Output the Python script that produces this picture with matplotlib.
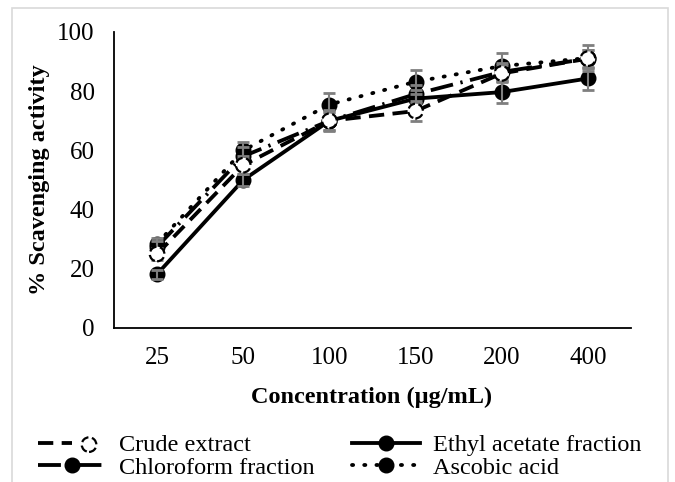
import matplotlib
matplotlib.use('Agg')
import matplotlib.pyplot as plt
from matplotlib.patches import Rectangle
from matplotlib.legend_handler import HandlerTuple
import numpy as np

plt.rcParams['font.family'] = ['Liberation Serif', 'DejaVu Serif']
plt.rcParams['font.size'] = 17.5

# data
conc = ['25', '50', '100', '150', '200', '400']
crude = [25, 55, 70, 73.3, 86, 91]
ethyl = [18.2, 50, 70, 77.5, 79.7, 84.3]
chloro = [27.5, 58, 70, 79, 86.5, 91]
ascorbic = [28.5, 60, 75.5, 83.2, 88.5, 91.2]
crude_err = [2, 3, 3, 3.3, 3, 3]
ethyl_err = [1.5, 2, 3.5, 3, 3.8, 4]
chloro_err = [2, 3, 3, 3, 3, 3]
ascorbic_err = [2, 3, 4, 4, 4.5, 4.5]

W, H = 675, 482
fig = plt.figure(figsize=(W / 100, H / 100), dpi=100)
ax = fig.add_axes([114 / W, 1 - 328 / H, 517 / W, 296 / H])

x = np.arange(len(conc))
lw = 2.75
ms = 10.5
err_kw = dict(fmt='none', ecolor='#7f7f7f', elinewidth=1.5, capsize=4.5, capthick=2, zorder=4)

# crude extract: dashed line, open marker with dashed edge
l_crude, = ax.plot(x, crude, color='k', lw=lw, ls=(0, (4, 2.2)), zorder=3)
ax.errorbar(x, crude, yerr=crude_err, **err_kw)
s_crude = ax.scatter(x, crude, s=ms ** 2, facecolors='white', edgecolors='k',
                     linewidths=1.6, linestyles='--', zorder=5)

l_ethyl, = ax.plot(x, ethyl, color='k', lw=lw, ls='-', marker='o', ms=ms, zorder=3)
ax.errorbar(x, ethyl, yerr=ethyl_err, **err_kw)

l_chloro, = ax.plot(x, chloro, color='k', lw=lw, ls=(0, (6, 2, 0.6, 2)), marker='o', ms=ms, zorder=3)
ax.errorbar(x, chloro, yerr=chloro_err, **err_kw)

l_asc, = ax.plot(x, ascorbic, color='k', lw=lw, ls=(0, (0.3, 2.9)), dash_capstyle='round',
                 marker='o', ms=ms, zorder=3)
ax.errorbar(x, ascorbic, yerr=ascorbic_err, **err_kw)

ax.set_xlim(-0.5, len(conc) - 0.5)
ax.set_ylim(0, 100)
ax.set_xticks(x, conc)
ax.set_yticks(np.arange(0, 101, 20))
ax.tick_params(length=0, pad=14, labelsize=18)
for side in ['top', 'right']:
    ax.spines[side].set_visible(False)
for side in ['left', 'bottom']:
    ax.spines[side].set_linewidth(1.3)

fig.text(372 / W, 1 - 397 / H, 'Concentration (µg/mL)', ha='center', va='center',
         fontsize=17.5, fontweight='bold')
fig.text(40 / W, 1 - 180 / H, '% Scavenging activity', ha='center', va='center',
         rotation=90, fontsize=17.5, fontweight='bold')

# legend is filled row by row in the reference
fig.legend(handles=[(l_crude, s_crude), l_chloro, l_ethyl, l_asc],
           labels=['Crude extract', 'Chloroform fraction', 'Ethyl acetate fraction', 'Ascobic acid'],
           handler_map={tuple: HandlerTuple(ndivide=None)},
           ncol=2, loc='upper left', bbox_to_anchor=(38 / W, 1 - 434 / H),
           frameon=False, borderpad=0, borderaxespad=0, handlelength=2.8,
           handletextpad=0.55, columnspacing=1.5, labelspacing=0.02,
           scatterpoints=1, fontsize=17.5)

# light frame around the chart area
fig.patches.append(Rectangle((12 / W, -0.05), 656 / W, 1 - 8 / H + 0.05,
                             transform=fig.transFigure, fill=False,
                             edgecolor='#d9d9d9', lw=1.2))

fig.savefig('out.png', dpi=100)
